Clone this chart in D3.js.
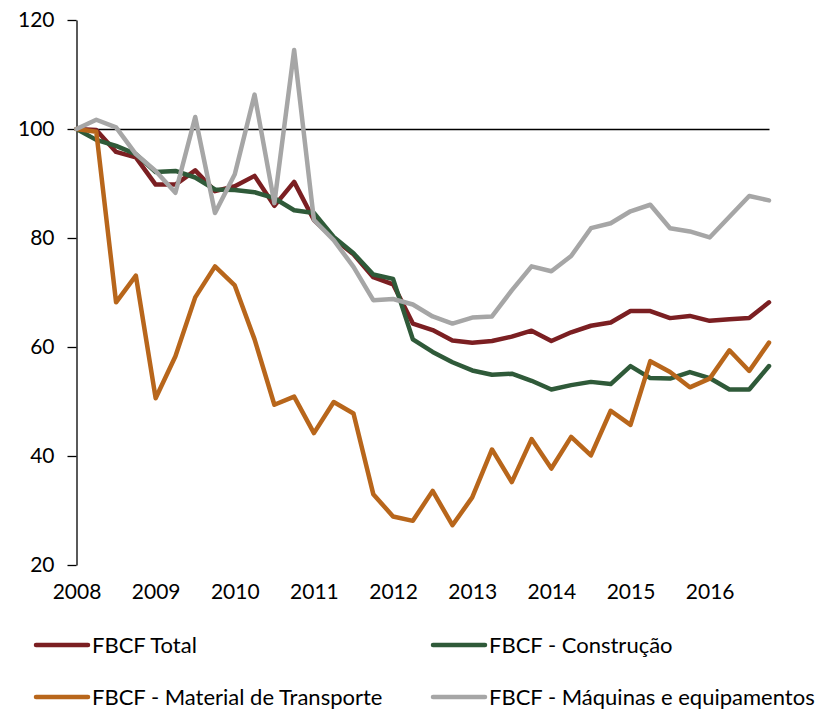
<!DOCTYPE html>
<html>
<head>
<meta charset="utf-8">
<script src="https://cdn.jsdelivr.net/npm/d3@7"></script>
<style>
	body { margin: 0; background: #fff; }
	text { font-family: Lato, "Open Sans", sans-serif; fill: #000; }
</style>
</head>
<body>
<svg id="chart" width="818" height="710"></svg>
<script>
// quarterly index, 2008Q1 = 100
var yearLabels = ["2008", "2009", "2010", "2011", "2012", "2013", "2014", "2015", "2016"];

var fbcfTotal = [100, 99.8, 95.8, 94.8, 89.8, 89.8, 92.4, 88.6, 89.5, 91.4, 85.9, 90.3,
	83.3, 79.9, 77.0, 72.8, 71.5, 64.3, 63.1, 61.2, 60.8, 61.1, 61.9, 63.0,
	61.1, 62.7, 63.9, 64.5, 66.6, 66.6, 65.3, 65.7, 64.8, 65.1, 65.3, 68.2];

var fbcfConstrucao = [100, 98.0, 96.9, 95.4, 92.1, 92.3, 91.1, 88.9, 88.8, 88.4, 87.3, 85.1,
	84.6, 80.2, 77.2, 73.3, 72.5, 61.4, 59.1, 57.2, 55.7, 54.9, 55.1, 53.8,
	52.2, 53.0, 53.6, 53.2, 56.5, 54.3, 54.2, 55.4, 54.3, 52.2, 52.2, 56.5];

var fbcfTransporte = [100, 99.5, 68.2, 73.1, 50.6, 58.3, 69.1, 74.8, 71.3, 61.4, 49.4, 50.9,
	44.2, 49.9, 47.8, 33.0, 28.9, 28.1, 33.6, 27.3, 32.4, 41.2, 35.2, 43.1,
	37.7, 43.5, 40.1, 48.3, 45.7, 57.4, 55.4, 52.6, 54.2, 59.4, 55.6, 60.8];

var fbcfMaquinas = [100, 101.7, 100.3, 95.4, 92.3, 88.3, 102.2, 84.6, 91.7, 106.3, 86.4, 114.5,
	83.3, 79.6, 74.7, 68.6, 68.8, 67.8, 65.6, 64.3, 65.4, 65.6, 70.4, 74.8,
	73.9, 76.7, 81.8, 82.7, 84.9, 86.1, 81.8, 81.2, 80.1, 83.9, 87.7, 86.9];

var seriesNames = ["FBCF Total", "FBCF - Construção", "FBCF - Material de Transporte", "FBCF - Máquinas e equipamentos"];
var seriesColors = ["#7b1f22", "#2f5a39", "#b8661b", "#a6a6a6"];
var yTicks = [20, 40, 60, 80, 100, 120];

var series = [fbcfTotal, fbcfConstrucao, fbcfTransporte, fbcfMaquinas];

var svg = d3.select("#chart");

var x = d3.scaleLinear().domain([0, fbcfTotal.length - 1]).range([76.5, 769]);
var y = d3.scaleLinear().domain([20, 120]).range([565, 20]);

// y axis, ticks pointing left
var yAxis = svg.append("g")
	.attr("transform", "translate(76.5,0)")
	.call(d3.axisLeft(y).tickValues(yTicks).tickSize(9).tickSizeOuter(0).tickPadding(13));
yAxis.selectAll("text").style("font-size", "21px").attr("fill", "#000");
yAxis.selectAll("line, path").attr("stroke", "#000").attr("stroke-width", 1.3);

// horizontal axis crosses at 100
var baseAxis = svg.append("g")
	.attr("transform", "translate(0," + y(100) + ")")
	.call(d3.axisBottom(x).tickValues([]).tickSizeOuter(0));
baseAxis.select(".domain").attr("stroke", "#000").attr("stroke-width", 1.3);

// year labels at the first quarter of each year
var xAxis = svg.append("g")
	.attr("transform", "translate(0,565)")
	.call(d3.axisBottom(x)
		.tickValues(d3.range(0, fbcfTotal.length, 4))
		.tickFormat(function(d) { return yearLabels[d / 4]; })
		.tickSize(0).tickPadding(19));
xAxis.select(".domain").remove();
xAxis.selectAll("text").style("font-size", "21px").attr("fill", "#000");

var line = d3.line()
	.x(function(d, i) { return x(i); })
	.y(function(d) { return y(d); });

svg.selectAll(".series")
	.data(series)
	.enter().append("path")
	.attr("class", "series")
	.attr("d", line)
	.attr("fill", "none")
	.attr("stroke", function(d, i) { return seriesColors[i]; })
	.attr("stroke-width", 4.5)
	.attr("stroke-linejoin", "round")
	.attr("stroke-linecap", "round");

// legend: two columns, two rows
var legend = svg.selectAll(".legend")
	.data(seriesNames)
	.enter().append("g")
	.attr("class", "legend")
	.attr("transform", function(d, i) {
		var col = i % 2, row = Math.floor(i / 2);
		return "translate(" + (col == 0 ? 36 : 433) + "," + (row == 0 ? 645 : 697) + ")";
	});

legend.append("line")
	.attr("x1", 0).attr("x2", 52)
	.attr("y1", 0).attr("y2", 0)
	.attr("stroke", function(d, i) { return seriesColors[i]; })
	.attr("stroke-width", 4.5)
	.attr("stroke-linecap", "round");

legend.append("text")
	.attr("x", 56)
	.attr("y", 0)
	.attr("dy", "0.35em")
	.style("font-size", "22px")
	.text(function(d) { return d; });
</script>
</body>
</html>
